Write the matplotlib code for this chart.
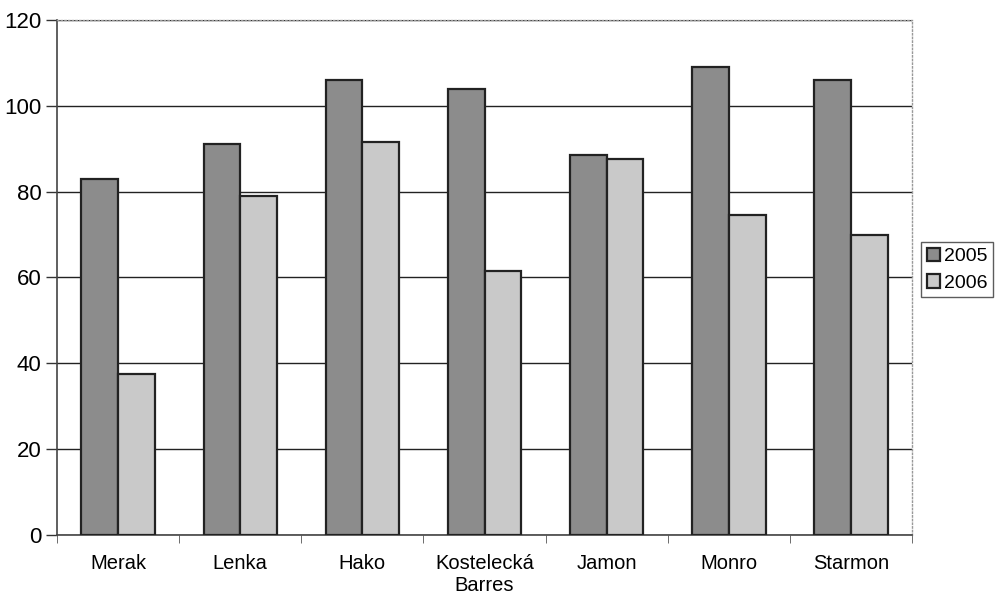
import numpy as np
import matplotlib.pyplot as plt

plt.rcParams['font.family'] = ['Liberation Sans', 'DejaVu Sans']

# values
brands = ['Merak', 'Lenka', 'Hako', 'Kostelecká\nBarres', 'Jamon', 'Monro', 'Starmon']
sales_2005 = [83, 91, 106, 104, 88.5, 109, 106]
sales_2006 = [37.5, 79, 91.5, 61.5, 87.5, 74.5, 70]
yticks = [0, 20, 40, 60, 80, 100, 120]

fig = plt.figure(figsize=(9.98, 6.07), dpi=100)
ax = fig.add_axes([0.057, 0.119, 0.857, 0.848])

x = np.arange(len(brands))
w = 0.30
ax.bar(x - w / 2, sales_2005, w, color='#8c8c8c', edgecolor='#222222', linewidth=1.6, label='2005', zorder=3)
ax.bar(x + w / 2, sales_2006, w, color='#c9c9c9', edgecolor='#222222', linewidth=1.6, label='2006', zorder=3)

ax.set_xlim(-0.5, len(brands) - 0.5)
ax.set_ylim(0, 120)
ax.set_yticks(yticks)
ax.tick_params(axis='y', labelsize=16, length=8, width=1, color='#333333', pad=3)
ax.yaxis.grid(True, color='#222222', linewidth=1.0, zorder=0)

# category labels centered, tick marks between categories
ax.set_xticks(x)
ax.set_xticklabels(brands, fontsize=14.5)
ax.tick_params(axis='x', length=0, pad=14)
ax.set_xticks(np.arange(-0.5, len(brands), 1), minor=True)
ax.tick_params(axis='x', which='minor', length=6, color='#555555')

for s in ['left', 'bottom']:
    ax.spines[s].set_color('#444444')
    ax.spines[s].set_linewidth(1.2)
for s in ['top', 'right']:
    ax.spines[s].set_color('#999999')
    ax.spines[s].set_linestyle(':')
    ax.spines[s].set_linewidth(1.0)

leg = ax.legend(loc='center left', bbox_to_anchor=(1.01, 0.515), fontsize=14,
                frameon=True, fancybox=False, edgecolor='#333333',
                handlelength=0.7, handleheight=0.7, handletextpad=0.2,
                borderpad=0.3, labelspacing=0.45, borderaxespad=0)
leg.get_frame().set_linewidth(1.0)

fig.savefig('out.png', dpi=100)
